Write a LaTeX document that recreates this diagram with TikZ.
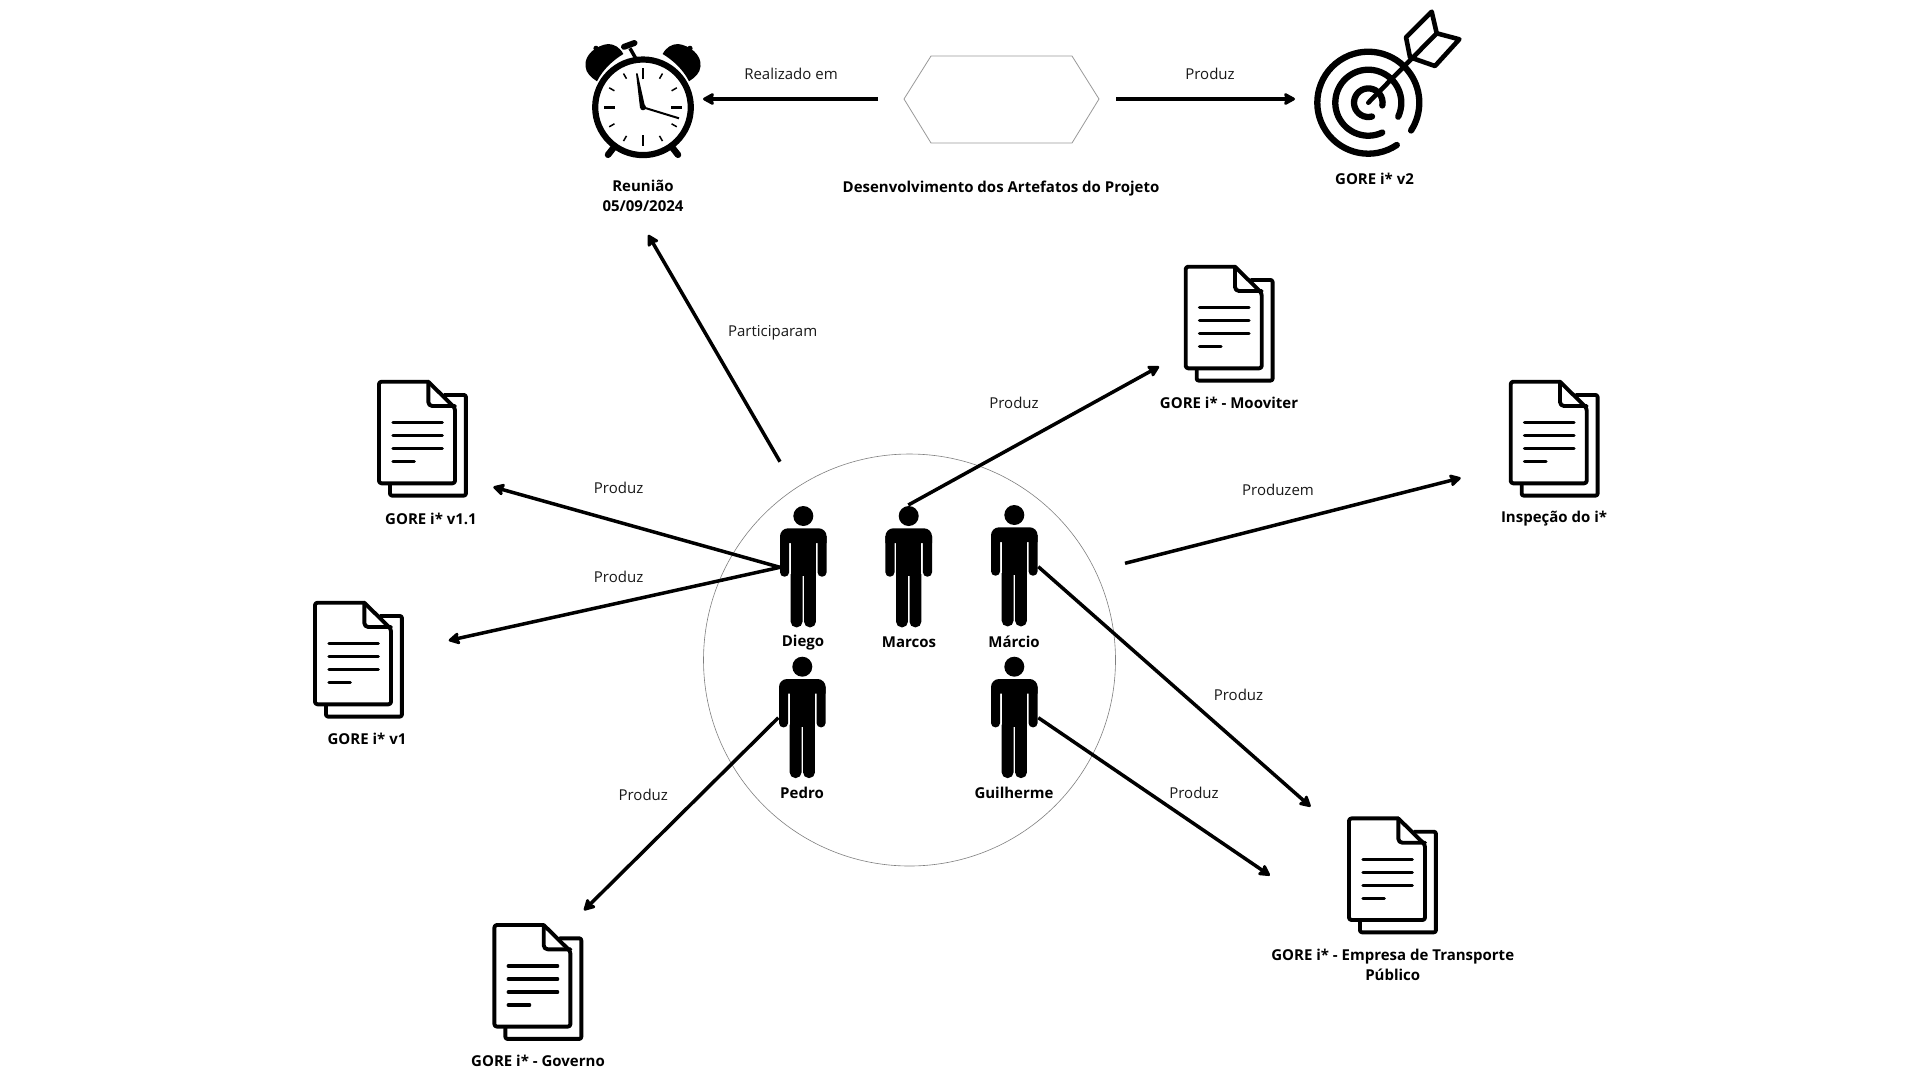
\documentclass[tikz,border=0pt]{standalone}
\usepackage{fontspec}
\setmainfont{Open Sans}
\usetikzlibrary{arrows.meta}
\tikzset{
  lbl/.style={inner sep=0pt,font=\fontsize{15}{20}\selectfont,text=black!90},
  name lbl/.style={inner sep=0pt,align=center,font=\fontsize{15}{20}\selectfont\bfseries,text=black},
  conn/.style={line width=3.5pt,-{Stealth[length=13pt,width=14pt,inset=2pt,round]},shorten >=1pt},
  docicon/.pic={
    \begin{scope}[line width=3.9pt,line join=round,line cap=round]
      \draw (12.7,105) -- (12.7,113.5) [rounded corners=2pt] -- (12.7,115.6) -- (88.6,115.6) -- (88.6,15) [sharp corners] -- (67,15);
      \draw[rounded corners=2.5pt] (51,1.7) -- (1.7,1.7) -- (1.7,103.3) -- (77.7,103.3) -- (77.7,28) [sharp corners] -- (51,1.7);
      \draw[rounded corners=4pt] (51,1.7) -- (51,26) -- (77.7,26);
    \end{scope}
    \begin{scope}[line width=3.1pt,line cap=round]
      \draw (15.5,42.7) -- (65,42.7);
      \draw (15.5,55.7) -- (65,55.7);
      \draw (15.5,68.7) -- (65,68.7);
      \draw (15.5,81.7) -- (37,81.7);
    \end{scope}
  },
  personicon/.pic={
    \fill (0,0) circle[radius=10];
    \fill (-23.3,27) [rounded corners=8pt] -- (-23.3,12.3) -- (23.3,12.3) [sharp corners] -- (23.3,27) -- cycle;
    \fill (-23.3,20) [rounded corners=4.4pt] -- (-23.3,60.7) -- (-14.2,60.7) [sharp corners] -- (-14.2,20) -- cycle;
    \fill (23.3,20) [rounded corners=4.4pt] -- (23.3,60.7) -- (14.2,60.7) [sharp corners] -- (14.2,20) -- cycle;
    \fill (-12.6,20) rectangle (12.6,60);
    \fill (-12.6,58) [rounded corners=5.5pt] -- (-12.6,111.3) -- (-0.8,111.3) [sharp corners] -- (-0.8,58) -- cycle;
    \fill (12.6,58) [rounded corners=5.5pt] -- (12.6,111.3) -- (0.8,111.3) [sharp corners] -- (0.8,58) -- cycle;
  },
  bellpart/.pic={
    \fill (19.7,-53.3) .. controls (23,-60) and (29,-63.3) .. (35,-63.3)
       .. controls (47,-62) and (59,-52) .. (57.5,-41)
       .. controls (57,-34) and (52,-30) .. (46,-26)
       .. controls (40,-38) and (30,-47) .. cycle;
    \fill (47,-59) circle[radius=2.6];
    \draw[line width=6.5pt,line cap=round] (29.5,40.5) -- (35,47.5);
  },
}
\begin{document}
\begin{tikzpicture}[x=1pt,y=-1pt]
\useasboundingbox (0,0) rectangle (1920,1080);
\fill[white] (0,0) rectangle (1920,1080);

% circle and hexagon
\node[circle,draw=black!50,line width=0.6pt,minimum size=412pt,inner sep=0pt] (team) at (909.5,660) {};
\coordinate (hexW) at (904,99); \coordinate (hexNW) at (931,56); \coordinate (hexNE) at (1072,56);
\coordinate (hexE) at (1099,99); \coordinate (hexSE) at (1072,143); \coordinate (hexSW) at (931,143);
\draw[black!40,line width=0.8pt] (hexW) -- (hexNW) -- (hexNE) -- (hexE) -- (hexSE) -- (hexSW) -- cycle;

% people
\pic at (803.3,516) {personicon};
\pic at (908.7,516) {personicon};
\pic at (1014.3,515) {personicon};
\pic at (802.3,666.7) {personicon};
\pic at (1014.3,666.7) {personicon};
\node[name lbl] (diego) at (803,643) {Diego};
\node[name lbl] (marcos) at (909,642) {Marcos};
\node[name lbl] (marcio) at (1014,642) {Márcio};
\node[name lbl] (pedro) at (802,793) {Pedro};
\node[name lbl] (guilherme) at (1014,793) {Guilherme};

% documents
\pic at (377.3,380) {docicon};
\pic at (313.3,601) {docicon};
\pic at (492.7,923.3) {docicon};
\pic at (1184,265) {docicon};
\pic at (1509,380) {docicon};
\pic at (1347.3,816.7) {docicon};
\node[name lbl] (v11) at (431,518.5) {GORE i* v1.1};
\node[name lbl] (v1) at (367,739) {GORE i* v1};
\node[name lbl] (gov) at (538,1061) {GORE i* - Governo};
\node[name lbl] (moov) at (1229,403) {GORE i* - Mooviter};
\node[name lbl] (insp) at (1554,519) {Inspeção do i*};
\node[name lbl] (emp) at (1392.7,965) {GORE i* - Empresa de Transporte\\Público};

% clock
\begin{scope}[shift={(643,107.3)}]
  \draw[line width=6.2pt] (0,0) circle[radius=47.8];
  \foreach \a in {0,90,180,270} \draw[line width=2.9pt] (\a:28) -- (\a:39);
  \foreach \a in {30,60,120,150,210,240,300,330} \draw[line width=1.5pt] (\a:33) -- (\a:39);
  \fill (-3,0.5) -- (-7,-34) -- (-5.4,-34) -- (2.3,0.5) -- cycle;
  \draw[line width=2pt] (0,0) -- (36,11);
  \fill (0,0) circle[radius=3];
  \draw[line width=3.5pt] (-13,-59) -- (-7.3,-49);
  \draw[line width=6pt,line cap=round] (-19,-60.5) -- (-8.5,-64.3);
  \pic at (0,0) {bellpart};
  \pic[xscale=-1] at (0,0) {bellpart};
\end{scope}
\node[name lbl] (reuniao) at (643,196) {Reunião\\[0.5pt]05/09/2024};

% target
\begin{scope}[shift={(1368.3,102.7)},line width=6.3pt,line cap=round]
  \draw (56:51) arc[start angle=56,end angle=393,radius=51];
  \draw (65:33) arc[start angle=65,end angle=385,radius=33];
  \draw (75:14.3) arc[start angle=75,end angle=371,radius=14.3];
\end{scope}
\coordinate (tgtC) at (1368.3,102.7); \coordinate (tgtN) at (1436.7,33.3);
\draw[line width=4.6pt,line cap=round] (tgtC) -- (tgtN);
\draw[line width=4.6pt,line join=round] (1431.7,11.7) -- (1406,37.3) -- (1410,57.3) -- (1435,66) -- (1459.3,39.3) -- (1436.7,33.3) -- cycle;
\node[name lbl] (v2) at (1374.5,178.5) {GORE i* v2};
\node[name lbl] (dev) at (1001,188.5) {Desenvolvimento dos Artefatos do Projeto};

% connector ends
\coordinate (a1s) at (878,99);   \coordinate (a1t) at (702,99);
\coordinate (a2s) at (1116,99);  \coordinate (a2t) at (1296,99);
\coordinate (a3s) at (780,461.7);\coordinate (a3t) at (647.7,234);
\coordinate (a4s) at (780,567.3);\coordinate (a4t) at (492.3,486.7);
\coordinate (a5t) at (447.7,640.7);
\coordinate (a6s) at (778.3,717.7);\coordinate (a6t) at (583.3,911);
\coordinate (a7s) at (908.3,505);\coordinate (a7t) at (1160,366);
\coordinate (a8s) at (1125,563.3);\coordinate (a8t) at (1461.7,477.7);
\coordinate (a9s) at (1038.3,566.7);\coordinate (a9t) at (1311.3,807.3);
\coordinate (a10s) at (1038.3,717.7);\coordinate (a10t) at (1270.7,876);

\draw[conn] (a1s) -- (a1t);
\draw[conn] (a2s) -- (a2t);
\draw[conn] (a3s) -- (a3t);
\draw[conn] (a4s) -- (a4t);
\draw[conn] (a4s) -- (a5t);
\draw[conn] (a6s) -- (a6t);
\draw[conn] (a7s) -- (a7t);
\draw[conn] (a8s) -- (a8t);
\draw[conn] (a9s) -- (a9t);
\draw[conn] (a10s) -- (a10t);

% connector labels
\node[lbl] (l1) at (791,73.5) {Realizado em};
\node[lbl] (l2) at (1210,73.5) {Produz};
\node[lbl] (l3) at (772.7,332.5) {Participaram};
\node[lbl] (l4) at (618.6,487.5) {Produz};
\node[lbl] (l5) at (618.6,577) {Produz};
\node[lbl] (l6) at (643.3,795) {Produz};
\node[lbl] (l7) at (1014,403) {Produz};
\node[lbl] (l8) at (1278,490) {Produzem};
\node[lbl] (l9) at (1238.5,694.6) {Produz};
\node[lbl] (l10) at (1194,792.6) {Produz};
\end{tikzpicture}
\end{document}
